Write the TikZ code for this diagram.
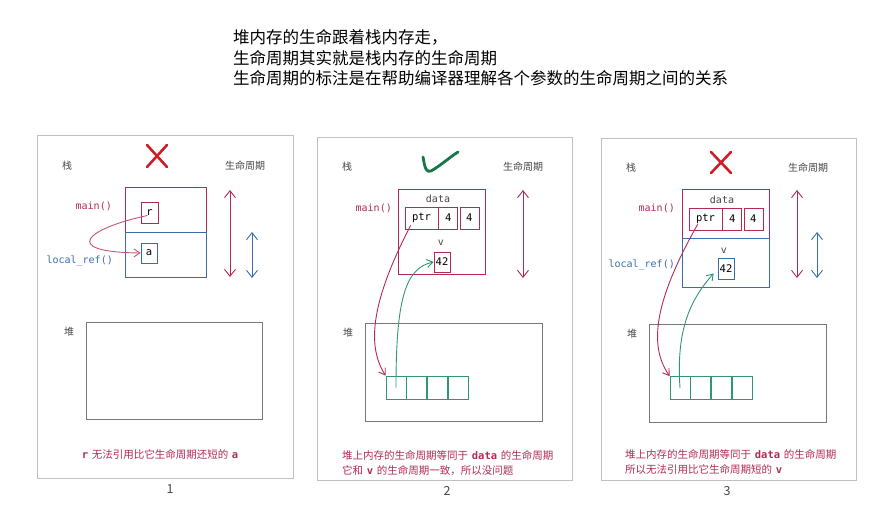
\documentclass[tikz,border=0pt]{standalone}
\usepackage{fontspec}
\setmainfont{Noto Sans CJK SC}
\setmonofont{DejaVu Sans Mono}
\usepackage{xcolor}
\usetikzlibrary{positioning, arrows.meta}
\definecolor{fnred}{RGB}{178,42,82}
\definecolor{fnblue}{RGB}{58,108,172}
\definecolor{heapgreen}{RGB}{48,150,118}
\definecolor{okgreen}{RGB}{22,120,70}
\definecolor{badred}{RGB}{205,30,40}
\definecolor{framegray}{RGB}{192,192,192}
\definecolor{heapgray}{RGB}{120,120,120}
\definecolor{labelgray}{RGB}{70,70,70}

\newcommand{\code}[1]{\hspace{0.35em}{\ttfamily\bfseries #1}\hspace{0.35em}}

\begin{document}
\begin{tikzpicture}[x=1pt, y=-1pt,
    panel/.style={rectangle, draw=framegray, line width=0.8pt, inner sep=0},
    fnbox/.style={rectangle, draw=#1, line width=0.8pt, inner sep=0},
    varbox/.style={rectangle, draw=#1, line width=0.7pt, inner sep=0, font=\fontsize{10.5}{11}\selectfont\ttfamily},
    heapbox/.style={rectangle, draw=heapgray, line width=0.8pt, inner sep=0},
    cell/.style={rectangle, draw=heapgreen, line width=0.8pt, inner sep=0, minimum width=20, minimum height=23},
    lbl/.style={text=labelgray, font=\fontsize{10}{12}\selectfont, inner sep=0},
    code/.style={font=\fontsize{10}{12}\selectfont\ttfamily, inner sep=0},
    note/.style={text=fnred, font=\fontsize{10.5}{14.5}\selectfont, align=left, inner sep=0},
    life/.style={{Straight Barb[length=7pt, width=11pt]}-{Straight Barb[length=7pt, width=11pt]}, line width=0.9pt},
    refarrow/.style={-{Straight Barb[length=6pt, width=8pt]}, line width=0.9pt},
    crossmark/.style={draw=badred, line width=2.6pt, line cap=round},
    tickmark/.style={draw=okgreen, line width=2.8pt, line cap=round, line join=round}]
\useasboundingbox (0,0) rectangle (892,515);

\node[anchor=north west, align=left, inner sep=0, font=\fontsize{16.5}{20.3}\selectfont] (title) at (233,29.5)
    {堆内存的生命跟着栈内存走，\\生命周期其实就是栈内存的生命周期\\生命周期的标注是在帮助编译器理解各个参数的生命周期之间的关系};

% 1
\node[panel, minimum width=256, minimum height=343] (p1) at (165,306.5) {};
\node[lbl] (stack1) at (67,166) {栈};
\node[lbl] (life1) at (245,166) {生命周期};
\draw[crossmark] (147,145) -- (167,167) (167,145) -- (147,167);
\node[fnbox=fnred, minimum width=81, minimum height=45] (main1) at (165.5,209.5) {};
\node[fnbox=fnblue, minimum width=81, minimum height=45, below=0pt of main1] (ref1) {};
\node[varbox=fnred, minimum width=17, minimum height=21] (r1) at (149.5,212.5) {r};
\node[varbox=fnblue, minimum width=16, minimum height=20] (a1) at (149,253) {a};
\node[code, text=fnred, anchor=east] (mainlbl1) at (112,206) {main()};
\node[code, text=fnblue, anchor=east] (reflbl1) at (113,261) {local\_ref()};
\draw[refarrow, fnred!80] ([shift={(-2,3)}]r1.center) .. controls (88,228) and (58,252) .. (a1.west);
\coordinate (top1) at (230,190);
\coordinate (bot1) at (230,277);
\draw[life, fnred] (top1) -- (bot1);
\coordinate (rtop1) at (252,232);
\coordinate (rbot1) at (252,278);
\draw[life, fnblue] (rtop1) -- (rbot1);
\node[lbl] (heaplbl1) at (69,332) {堆};
\node[heapbox, minimum width=176, minimum height=97] (heap1) at (174,370.5) {};
\node[note] (note1) at (160,454) {\code{r}无法引用比它生命周期还短的\code{a}};
\node[lbl, font=\fontsize{12.5}{13}\selectfont] (num1) at (170,489) {1};

% 2
\node[panel, minimum width=255, minimum height=343] (p2) at (444.5,308.5) {};
\node[lbl] (stack2) at (347,167) {栈};
\node[lbl] (life2) at (523,167) {生命周期};
\draw[tickmark] (423,157) .. controls (425,168) and (426,173) .. (431,171) .. controls (440,166) and (450,157) .. (458,152);
\node[fnbox=fnred, minimum width=87, minimum height=85] (main2) at (441.5,231.5) {};
\node[code, text=labelgray] (data2) at (438,199) {data};
\node[varbox=fnred, minimum width=33, minimum height=22] (ptr2) at (421.5,218) {ptr};
\node[varbox=fnred, minimum width=19, minimum height=22, right=0pt of ptr2] (len2) {4};
\node[varbox=fnred, minimum width=19, minimum height=22, right=1.5pt of len2] (cap2) {4};
\node[code, text=labelgray] (vlbl2) at (441,243) {v};
\node[varbox=fnred, minimum width=16, minimum height=20] (v2) at (442,262) {42};
\node[code, text=fnred, anchor=east] (mainlbl2) at (392,208) {main()};
\coordinate (top2) at (523,190);
\coordinate (bot2) at (523,278);
\draw[life, fnred] (top2) -- (bot2);
\node[lbl] (heaplbl2) at (348,333) {堆};
\node[heapbox, minimum width=177, minimum height=98] (heap2) at (453.5,372) {};
\node[cell] (c21) at (396,387.5) {};
\node[cell, right=0pt of c21] (c22) {};
\node[cell, right=0pt of c22] (c23) {};
\node[cell, right=0pt of c23] (c24) {};
\draw[refarrow, fnred] ([shift={(6,-4)}]ptr2.south west) .. controls (372,300) and (366,345) .. (c21.north west);
\draw[refarrow, heapgreen] (c21.center) .. controls (396,300) and (405,268) .. (v2.west);
\node[note, anchor=west] (note2) at (342,463) {堆上内存的生命周期等同于\code{data}的生命周期\\它和\code{v}的生命周期一致，所以没问题};
\node[lbl, font=\fontsize{12.5}{13}\selectfont] (num2) at (447,491) {2};

% 3
\node[panel, minimum width=255, minimum height=342] (p3) at (728.5,309) {};
\node[lbl] (stack3) at (631,168) {栈};
\node[lbl] (life3) at (808,168) {生命周期};
\draw[crossmark] (711,152) -- (731,173) (731,152) -- (711,173);
\node[fnbox=fnred, minimum width=87, minimum height=49] (main3) at (725.5,213.5) {};
\node[fnbox=fnblue, minimum width=87, minimum height=49, below=0pt of main3] (ref3) {};
\node[code, text=labelgray] (data3) at (722,200) {data};
\node[varbox=fnred, minimum width=33, minimum height=22] (ptr3) at (705.5,219) {ptr};
\node[varbox=fnred, minimum width=19, minimum height=22, right=0pt of ptr3] (len3) {4};
\node[varbox=fnred, minimum width=19, minimum height=22, right=1.5pt of len3] (cap3) {4};
\node[code, text=labelgray] (vlbl3) at (724,251) {v};
\node[varbox=fnblue, minimum width=16, minimum height=21] (v3) at (726,268.5) {42};
\node[code, text=fnred, anchor=east] (mainlbl3) at (675,208) {main()};
\node[code, text=fnblue, anchor=east] (reflbl3) at (675,265) {local\_ref()};
\coordinate (top3) at (797,190);
\coordinate (bot3) at (797,278);
\draw[life, fnred] (top3) -- (bot3);
\coordinate (rtop3) at (817,232);
\coordinate (rbot3) at (817,278);
\draw[life, fnblue] (rtop3) -- (rbot3);
\node[lbl] (heaplbl3) at (632,334) {堆};
\node[heapbox, minimum width=177, minimum height=98] (heap3) at (737.5,373) {};
\node[cell] (c31) at (680,388) {};
\node[cell, right=0pt of c31] (c32) {};
\node[cell, right=0pt of c32] (c33) {};
\node[cell, right=0pt of c33] (c34) {};
\draw[refarrow, fnred] ([shift={(9,-6)}]ptr3.south west) .. controls (655,300) and (648,345) .. (c31.north west);
\draw[refarrow, heapgreen] (c31.center) .. controls (676,330) and (690,300) .. ([shift={(-4,-6)}]v3.south west);
\node[note, anchor=west] (note3) at (625,462) {堆上内存的生命周期等同于\code{data}的生命周期\\所以无法引用比它生命周期短的\code{v}};
\node[lbl, font=\fontsize{12.5}{13}\selectfont] (num3) at (727,491) {3};
\end{tikzpicture}
\end{document}
